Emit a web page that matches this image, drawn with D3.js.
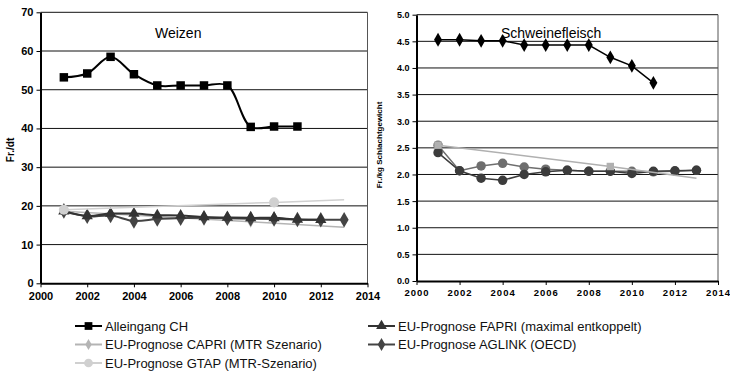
<!DOCTYPE html>
<html><head><meta charset="utf-8">
<script src="https://cdn.jsdelivr.net/npm/d3@7"></script>
<style>
body{margin:0;background:#fff;}
svg{display:block;font-family:"Liberation Sans",Arial,sans-serif;}
</style></head>
<body><svg id="c" width="730" height="375"></svg>
<script>
// ---------- Data: Weizen (Fr./dt) ----------
const wheatYears = [2001,2002,2003,2004,2005,2006,2007,2008,2009,2010,2011,2012,2013];
const wheatCH     = [53.2,54.2,58.5,54.0,51.1,51.1,51.1,51.1,40.4,40.5,40.5];
const wheatFAPRI  = [18.6,17.4,18.0,18.0,17.6,17.5,17.1,17.0,16.9,16.9,16.5,16.4];
const wheatAGLINK = [18.7,17.3,17.5,16.1,16.6,16.8,16.9,16.8,16.7,16.6,16.5,16.4,16.4];
const wheatCAPRIYears = [2001,2009,2013];
const wheatCAPRI      = [18.6,15.9,14.5];
const wheatGTAPYears  = [2001,2010,2013];
const wheatGTAP       = [19.0,20.9,21.6];
const wheatYTicks = [0,10,20,30,40,50,60,70];

// ---------- Data: Schweinefleisch (Fr./kg Schlachtgewicht) ----------
const porkYears = [2001,2002,2003,2004,2005,2006,2007,2008,2009,2010,2011,2012,2013];
const porkCH     = [4.53,4.53,4.51,4.51,4.43,4.43,4.43,4.43,4.20,4.04,3.72];
const porkAGLINK = [2.41,2.07,1.93,1.89,2.00,2.05,2.08,2.06,2.06,2.02,2.06,2.07,2.08];
const porkFAPRI  = [2.55,2.07,2.16,2.21,2.14,2.10,2.08,2.06,2.06,2.06,2.05,2.06,2.08];
const porkCAPRIYears = [2001,2009,2013];
const porkCAPRI      = [2.55,2.15,1.93];
const porkYTicks = [0,0.5,1,1.5,2,2.5,3,3.5,4,4.5,5];

const xTicks = [2000,2002,2004,2006,2008,2010,2012,2014];

const legendItems = [
  "Alleingang CH",
  "EU-Prognose FAPRI (maximal entkoppelt)",
  "EU-Prognose CAPRI (MTR Szenario)",
  "EU-Prognose AGLINK (OECD)",
  "EU-Prognose GTAP (MTR-Szenario)"
];

// ---------- Drawing ----------
const svg = d3.select("#c");
const sym = (type, size) => d3.symbol().type(type).size(size)();

function pts(years, vals){ return vals.map((v,i)=>({x:years[i], y:v})); }

function panel(o){
  const g = svg.append("g");
  const x = d3.scaleLinear().domain([2000,2014]).range([o.x0,o.x1]);
  const y = d3.scaleLinear().domain(o.yDomain).range([o.y0,o.y1]);
  g.append("g").selectAll("line").data(o.yTicks.filter(t=>t>o.yDomain[0])).join("line")
    .attr("x1",o.x0).attr("x2",o.x1).attr("y1",d=>y(d)).attr("y2",d=>y(d))
    .attr("stroke","#111").attr("stroke-width",1);
  g.append("line").attr("x1",o.x1).attr("x2",o.x1).attr("y1",o.y1).attr("y2",o.y0)
    .attr("stroke","#555").attr("stroke-width",1);
  const ya = g.append("g").attr("transform",`translate(${o.x0},0)`)
    .call(d3.axisLeft(y).tickValues(o.yTicks).tickSize(4).tickSizeOuter(0).tickFormat(o.yFmt));
  ya.select(".domain").attr("stroke","#000").attr("stroke-width",2);
  ya.selectAll(".tick line").attr("stroke","#000");
  ya.selectAll("text").attr("font-family","Liberation Sans, Arial, sans-serif")
    .attr("font-weight","bold").attr("font-size",o.yFont).attr("fill","#000").attr("x",-o.yPad);
  const xa = g.append("g").attr("transform",`translate(0,${o.y0})`)
    .call(d3.axisBottom(x).tickValues(xTicks).tickSize(4).tickSizeOuter(0).tickFormat(d3.format("d")));
  xa.select(".domain").attr("stroke","#000").attr("stroke-width",2);
  xa.selectAll(".tick line").attr("stroke","#000");
  xa.selectAll("text").attr("font-family","Liberation Sans, Arial, sans-serif")
    .attr("font-weight","bold").attr("font-size",o.xFont).attr("fill","#000")
    .attr("y",o.xPad).attr("letter-spacing",o.xSpacing);
  g.append("text").attr("transform",`translate(${o.titleX},${o.titleY}) rotate(-90)`)
    .attr("text-anchor","middle").attr("font-weight","bold").attr("font-size",o.yTitleFont)
    .text(o.yTitle);
  g.append("text").attr("x",o.nameX).attr("y",o.nameY).attr("font-size",14).text(o.name);
  const sg = g.append("g");
  o.series.forEach(s=>{
    const line = d3.line().x(d=>x(d.x)).y(d=>y(d.y)).curve(s.curve||d3.curveLinear);
    sg.append("path").attr("d",line(s.data)).attr("fill","none")
      .attr("stroke",s.color).attr("stroke-width",s.lw);
    const md = s.skipLast ? s.data.slice(0,-1) : s.data;
    sg.append("g").selectAll("path").data(md).join("path")
      .attr("transform",d=>`translate(${x(d.x)},${y(d.y)})`)
      .attr("d",sym(s.symbol,s.size)).attr("fill",s.color);
  });
}

const smooth = d3.curveCatmullRom.alpha(0.5);

panel({
  x0:40.5, x1:367.5, y0:283.3, y1:12.3, yDomain:[0,70], yTicks:wheatYTicks,
  yFmt:d3.format("d"), yFont:11, yPad:7, xFont:11, xPad:9, xSpacing:0,
  titleX:14, titleY:150, yTitle:"Fr./dt", yTitleFont:10,
  name:"Weizen", nameX:155, nameY:38,
  series:[
    {data:pts(wheatCAPRIYears,wheatCAPRI), color:"#b4b4b4", lw:1.5, symbol:d3.symbolDiamond, size:40, skipLast:true},
    {data:pts(wheatYears,wheatAGLINK), color:"#444", lw:2, symbol:d3.symbolDiamond, size:70, curve:smooth},
    {data:pts(wheatYears,wheatFAPRI), color:"#333", lw:2, symbol:d3.symbolTriangle, size:55, curve:smooth},
    {data:pts(wheatYears,wheatCH), color:"#000", lw:2, symbol:d3.symbolSquare, size:72, curve:smooth},
    {data:pts(wheatGTAPYears,wheatGTAP), color:"#d0d0d0", lw:1.5, symbol:d3.symbolCircle, size:80, skipLast:true}
  ]
});

panel({
  x0:416.5, x1:718, y0:281, y1:14.7, yDomain:[0,5], yTicks:porkYTicks,
  yFmt:d3.format(".1f"), yFont:9, yPad:7, xFont:9.5, xPad:8, xSpacing:1,
  titleX:382, titleY:145, yTitle:"Fr./kg Schlachtgewicht", yTitleFont:8,
  name:"Schweinefleisch", nameX:501, nameY:38,
  series:[
    {data:pts(porkYears,porkFAPRI), color:"#6e6e6e", lw:1.5, symbol:d3.symbolCircle, size:70},
    {data:pts(porkYears,porkAGLINK), color:"#3c3c3c", lw:1.5, symbol:d3.symbolCircle, size:70},
    {data:pts(porkCAPRIYears,porkCAPRI), color:"#b0b0b0", lw:1.5, symbol:d3.symbolSquare, size:55, skipLast:true},
    {data:pts(porkYears,porkCH), color:"#000", lw:1.5, symbol:d3.symbolDiamond, size:55}
  ]
});

// ---------- Legend ----------
const legendStyle = [
  {color:"#000", symbol:d3.symbolSquare, size:60},
  {color:"#333", symbol:d3.symbolTriangle, size:50},
  {color:"#b4b4b4", symbol:d3.symbolDiamond, size:35},
  {color:"#444", symbol:d3.symbolDiamond, size:50},
  {color:"#d0d0d0", symbol:d3.symbolCircle, size:60}
];
const lg = svg.append("g");
legendItems.forEach((t,i)=>{
  const col = i%2, row = Math.floor(i/2);
  const lx = col===0 ? 75 : 368, ly = 326 + row*18.5;
  const st = legendStyle[i];
  lg.append("line").attr("x1",lx).attr("x2",lx+27).attr("y1",ly).attr("y2",ly)
    .attr("stroke",st.color).attr("stroke-width",2);
  lg.append("path").attr("transform",`translate(${lx+13.5},${ly})`)
    .attr("d",sym(st.symbol,st.size)).attr("fill",st.color);
  lg.append("text").attr("x",lx+30).attr("y",ly+4.5).attr("font-size",13)
    .attr("font-family","Liberation Sans Narrow, Arial Narrow, Liberation Sans, sans-serif")
    .attr("fill","#111").text(t);
});
</script>
</body></html>
